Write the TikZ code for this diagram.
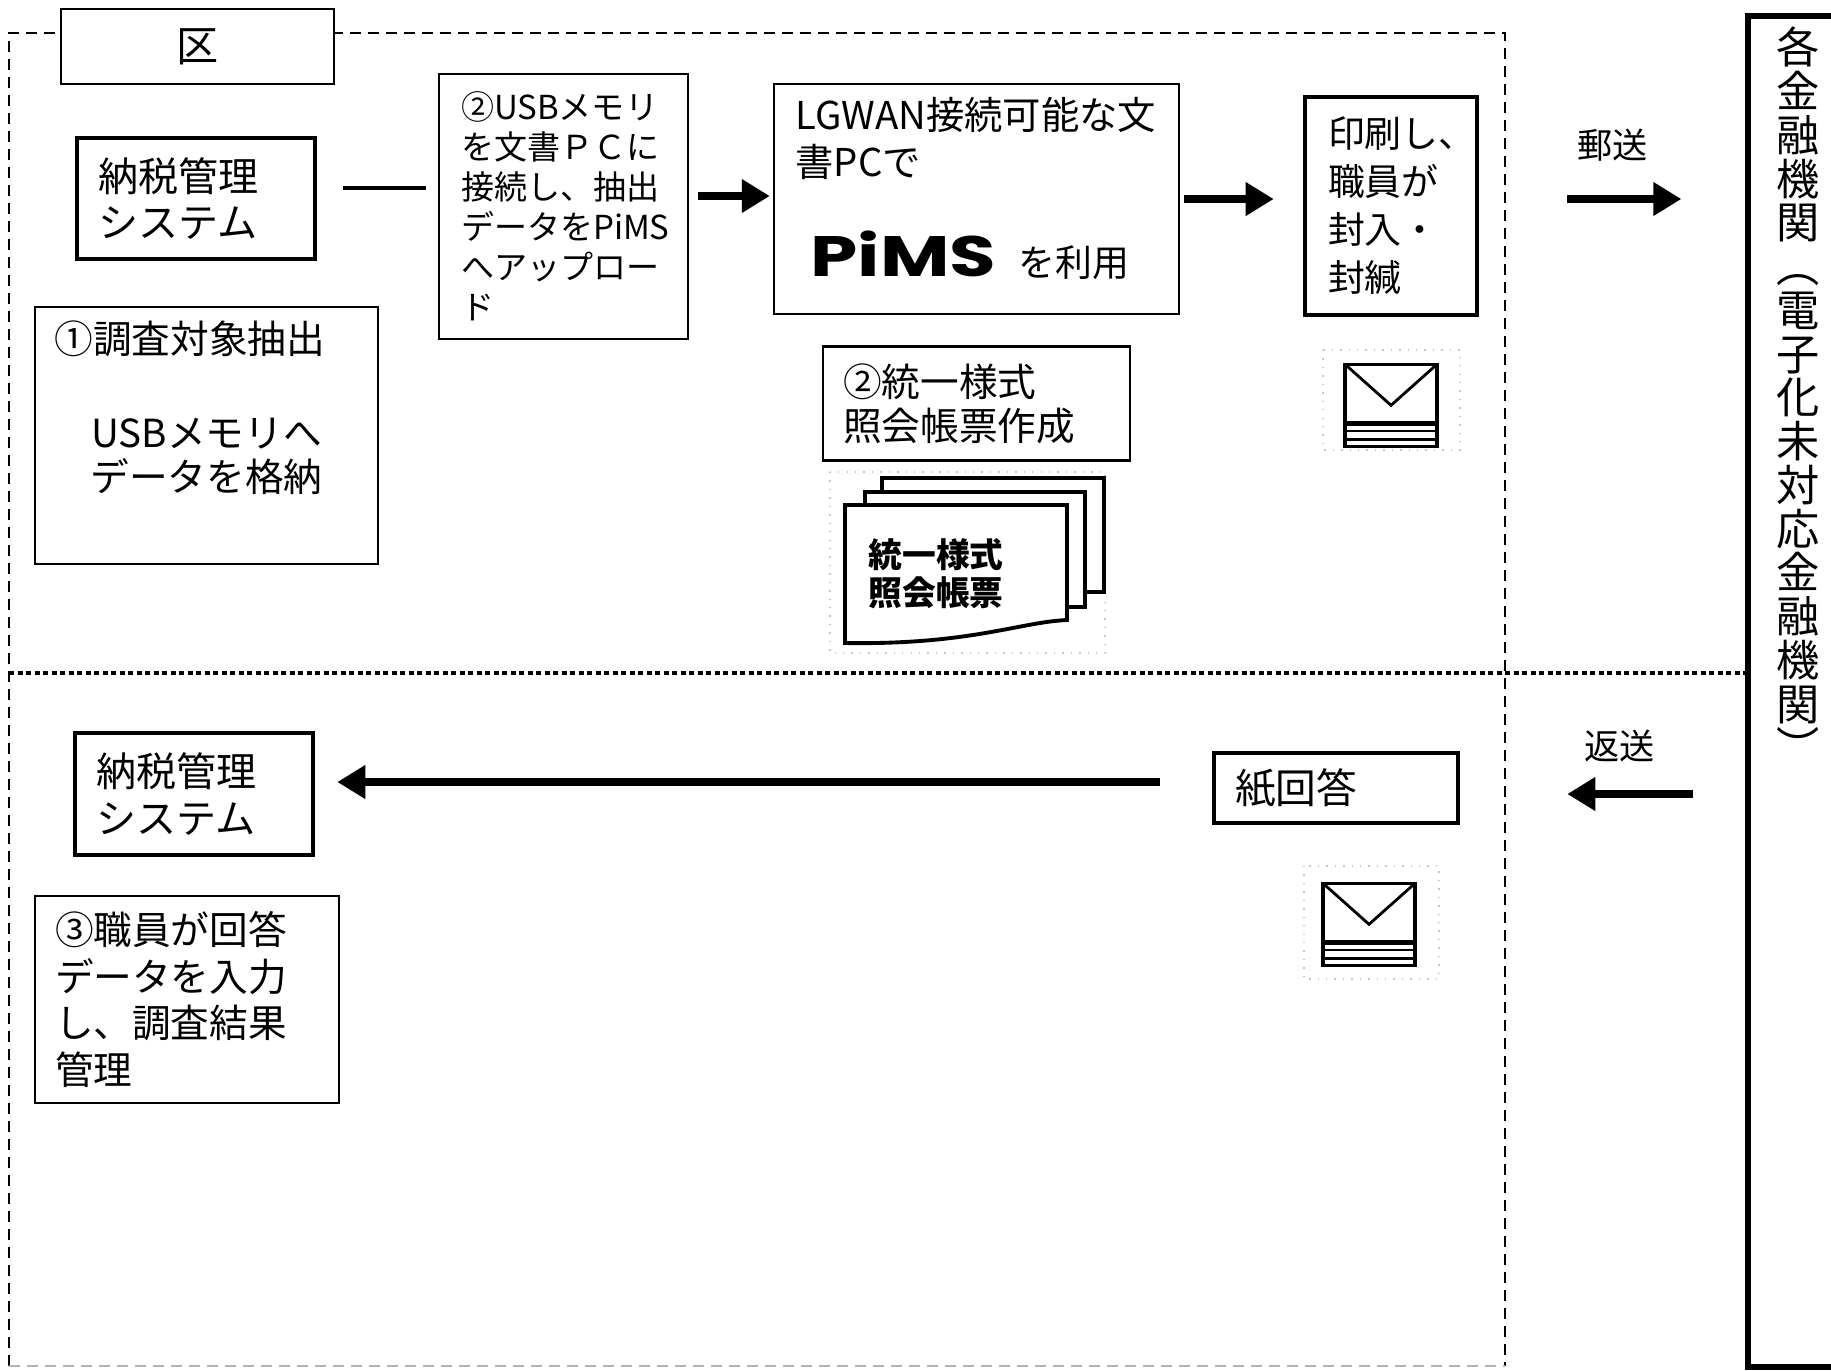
\documentclass[tikz,border=0pt]{standalone}
\usepackage{fontspec}
\setmainfont{Noto Sans CJK JP}
\newfontfamily\logofont{Poppins}[FakeStretch=1.33]
\usetikzlibrary{positioning, arrows.meta}

\begin{document}
\begin{tikzpicture}[
  box/.style={draw, line width=0.7pt, align=left, inner xsep=0.21cm, inner ysep=0pt},
  heavy/.style={box, line width=1.3pt},
  txt/.style={inner sep=0pt, align=left},
  fs/.style 2 args={font=\fontsize{#1}{#2}\selectfont},
  arr/.style={-{Triangle[length=0.28cm, width=0.32cm]}, line width=2.5pt},
  zone/.style={dash pattern=on 0.11cm off 0.07cm, line width=0.8pt},
  divider/.style={dash pattern=on 0.05cm off 0.035cm, line width=1.2pt},
  halo/.style={gray!45, dotted, line width=0.4pt},
  envelope/.pic={
    \filldraw[fill=white, line width=1pt] (0,0) rectangle (0.92,-0.82);
    \draw[line width=0.8pt] (0,0) -- (0.46,-0.41) -- (0.92,0);
    \draw[line width=1.3pt] (0,-0.59) -- (0.92,-0.59);
    \draw[line width=0.6pt] (0,-0.67) -- (0.92,-0.67);
    \draw[line width=0.9pt] (0,-0.75) -- (0.92,-0.75);
  }]
\useasboundingbox (0,0) rectangle (18.31,-13.70);

% ward side, split into sending and receiving
\draw[zone] (0.09,-13.66) -- (0.09,-0.33) -- (15.05,-0.33) -- (15.05,-13.66);
\draw[zone, gray!60] (0.09,-13.66) -- (15.05,-13.66);
\node[box, align=center, fill=white, minimum width=2.73cm, minimum height=0.75cm, fs={12}{14}] (ward) at (1.975,-0.465) {区};

% banks
\node[heavy, line width=1.5pt, minimum width=1cm, minimum height=13.51cm] (bank) at (17.98,-6.915) {};
\node[txt, align=center, anchor=north, fs={12.3}{12.45}] (bank-t) at ([yshift=-0.13cm]bank.north) {各\\金\\融\\機\\関\\︵\\電\\子\\化\\未\\対\\応\\金\\融\\機\\関\\︶};
\draw[divider] (0.09,-6.73) -- (bank.west |- 0,-6.73);

% sending
\node[heavy, text width=1.96cm, minimum height=1.21cm, fs={11.4}{13.2}] (tax1) at (1.96,-1.985) {納税管理\\システム};
\node[box, text width=2.05cm, inner xsep=0.22cm, minimum height=2.65cm, fs={9.4}{11.4}] (usb) at (5.635,-2.065) {②USBメモリ\\を文書ＰＣに\\接続し、抽出\\データをPiMS\\へアップロー\\ド};
\node[box, minimum width=4.05cm, minimum height=2.30cm] (lgwan) at (9.765,-1.99) {};
\node[txt, anchor=north west, fs={10.9}{13.3}] (lgwan-t) at ([shift={(0.22,-0.14)}]lgwan.north west) {LGWAN接続可能な文\\書PCで};
\node[txt, anchor=base west, font=\logofont\bfseries\fontsize{16.2}{18}\selectfont] (pims) at ([shift={(0.37,0.39)}]lgwan.south west) {PiMS};
\node[txt, anchor=base west, fs={10.5}{12}] (pims-use) at ([xshift=0.21cm]pims.base east) {を利用};
\node[heavy, text width=1.26cm, inner xsep=0.23cm, minimum height=2.18cm, fs={10.5}{13.6}] (print) at (13.91,-2.06) {印刷し、\\職員が\\封入・\\封緘};
\node[box, text width=2.67cm, inner xsep=0.2cm, minimum height=1.14cm, fs={11}{12.6}, below=0.30cm of lgwan] (form) {②統一様式\\照会帳票作成};
\node[box, minimum width=3.43cm, minimum height=2.57cm] (pick) at (2.065,-4.355) {};
\node[txt, anchor=north west, fs={11}{12.6}] (pick-t) at ([shift={(0.20,-0.14)}]pick.north west) {①調査対象抽出};
\node[txt, align=center, fs={11}{12.6}] (pick-b) at ([yshift=-0.21cm]pick.center) {USBメモリへ\\データを格納};

\draw[line width=1.3pt, shorten <=0.26cm, shorten >=0.12cm] ([yshift=0.105cm]tax1.east) -- ([yshift=0.105cm]tax1.east -| usb.west);
\draw[arr, shorten <=0.09cm, shorten >=0.03cm] ([yshift=0.105cm]usb.east) -- ([yshift=0.105cm]usb.east -| lgwan.west);
\draw[arr, shorten <=0.04cm, shorten >=0.29cm] (lgwan.east) -- (lgwan.east -| print.west);
\draw[arr, shorten <=0.88cm, shorten >=0.64cm] ([yshift=0.07cm]print.east) -- node[txt, above=0.33cm, fs={10}{12}] (post) {郵送} ([yshift=0.07cm]print.east -| bank.west);

% envelope and the stack of forms
\draw[halo] (13.23,-3.50) rectangle (14.60,-4.50);
\pic at ([shift={(-0.46,-0.47)}]print.south) {envelope};
\draw[halo] (8.30,-4.72) rectangle (11.05,-6.53);
\filldraw[fill=white, line width=1.1pt] (8.82,-4.78) rectangle (11.04,-5.92);
\filldraw[fill=white, line width=1.1pt] (8.65,-4.92) rectangle (10.85,-6.07);
\filldraw[fill=white, line width=1.1pt] (8.45,-5.05) -- (10.67,-5.05) -- (10.67,-6.20) .. controls (10.2,-6.22) and (9.7,-6.45) .. (8.45,-6.43) -- cycle;
\node[txt, font=\fontsize{9.6}{10.8}\selectfont\bfseries] (forms-t) at (9.36,-5.74) {統一様式\\照会帳票};

% receiving
\node[heavy, text width=1.96cm, minimum height=1.22cm, fs={11.4}{13.2}] (tax2) at (1.94,-7.94) {納税管理\\システム};
\node[heavy, text width=2.02cm, minimum height=0.70cm, fs={11.6}{13}] (reply) at (13.36,-7.88) {紙回答};
\node[box, text width=2.64cm, inner xsep=0.2cm, minimum height=2.07cm, fs={11}{13.2}] (entry) at (1.87,-9.995) {③職員が回答\\データを入力\\し、調査結果\\管理};
\draw[halo] (13.04,-8.66) rectangle (14.39,-9.79);
\pic at ([shift={(-0.13,-0.58)}]reply.south) {envelope};

\draw[arr, shorten <=0.52cm, shorten >=0.22cm] ([yshift=0.06cm]reply.west) -- ([yshift=0.06cm]reply.west -| tax2.east);
\draw[arr, shorten <=0.52cm, shorten >=1.07cm] ([yshift=-0.06cm]reply.east -| bank.west) -- node[txt, pos=0.44, above=0.28cm, fs={10}{12}] (back) {返送} ([yshift=-0.06cm]reply.east);
\end{tikzpicture}
\end{document}
